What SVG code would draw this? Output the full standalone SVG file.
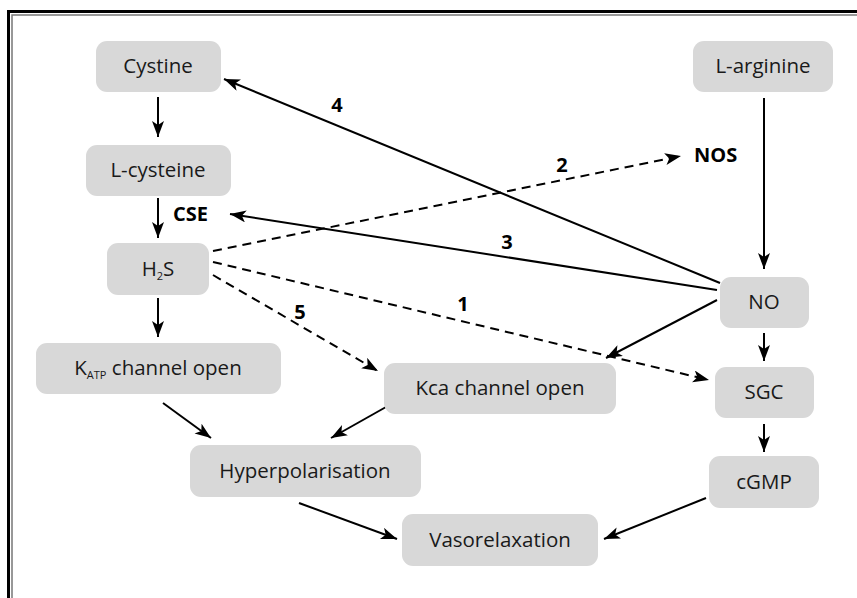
<svg xmlns="http://www.w3.org/2000/svg" width="857" height="598" viewBox="0 0 857 598">
<style>
.node rect{fill:#d8d8d8;}
.node text{font-family:"Open Sans","Noto Sans",sans-serif;font-size:20.5px;fill:#1a1a1a;text-anchor:middle;}
.lbl{font-family:"Open Sans","Noto Sans",sans-serif;font-size:20px;font-weight:bold;fill:#000;}
.sub{font-size:11px;}
.c{stroke:#000;stroke-width:2;fill:none;}
.d{stroke-dasharray:9,6;}
</style>
<defs>
<marker id="ah" markerUnits="userSpaceOnUse" markerWidth="18" markerHeight="14" refX="16" refY="6" orient="auto">
<path d="M0,0 L16,6 L0,12 L4,6 z" fill="#000"/>
</marker>
</defs>
<rect width="857" height="598" fill="#fff"/>
<path d="M8.5,598 V11.5 H857" fill="none" stroke="#000" stroke-width="3"/>
<path d="M12,598 V15 H857" fill="none" stroke="#777" stroke-width="1.5"/>

<g id="connectors">
<line class="c" x1="158" y1="97" x2="158" y2="137" marker-end="url(#ah)"/>
<line class="c" x1="158" y1="198" x2="158" y2="238" marker-end="url(#ah)"/>
<line class="c" x1="158" y1="298" x2="158" y2="337" marker-end="url(#ah)"/>
<line class="c" x1="764" y1="98" x2="764" y2="269" marker-end="url(#ah)"/>
<line class="c" x1="764" y1="333" x2="764" y2="361" marker-end="url(#ah)"/>
<line class="c" x1="764" y1="424" x2="764" y2="452" marker-end="url(#ah)"/>
<line class="c" x1="720" y1="283" x2="224" y2="79" marker-end="url(#ah)"/>
<line class="c" x1="717" y1="290" x2="230" y2="214" marker-end="url(#ah)"/>
<line class="c" x1="717" y1="300" x2="606" y2="358" marker-end="url(#ah)"/>
<line class="c" x1="163" y1="403" x2="211" y2="438" marker-end="url(#ah)"/>
<line class="c" x1="386" y1="407" x2="331" y2="438" marker-end="url(#ah)"/>
<line class="c" x1="299" y1="503" x2="397" y2="539" marker-end="url(#ah)"/>
<line class="c" x1="706" y1="498" x2="604" y2="539" marker-end="url(#ah)"/>
<line class="c d" x1="213" y1="251" x2="681" y2="156" marker-end="url(#ah)"/>
<line class="c d" x1="213" y1="262" x2="709" y2="380" marker-end="url(#ah)"/>
<line class="c d" x1="213" y1="275" x2="378" y2="371" marker-end="url(#ah)"/>
</g>

<g id="labels">
<text class="lbl" x="173" y="221">CSE</text>
<text class="lbl" x="694" y="162">NOS</text>
<text class="lbl" x="337" y="112" text-anchor="middle">4</text>
<text class="lbl" x="562" y="172" text-anchor="middle">2</text>
<text class="lbl" x="507" y="249" text-anchor="middle">3</text>
<text class="lbl" x="463" y="311" text-anchor="middle">1</text>
<text class="lbl" x="300" y="319" text-anchor="middle">5</text>
</g>

<g id="cystine" class="node"><rect x="96" y="41" width="125" height="51" rx="11"/><text x="158" y="73">Cystine</text></g>
<g id="l-cysteine" class="node"><rect x="86" y="145" width="145" height="51" rx="11"/><text x="158" y="177">L-cysteine</text></g>
<g id="h2s" class="node"><rect x="107" y="243" width="102" height="52" rx="11"/><text x="158" y="276">H<tspan class="sub" dy="4">2</tspan><tspan dy="-4">S</tspan></text></g>
<g id="katp" class="node"><rect x="36" y="343" width="245" height="51" rx="11"/><text x="158" y="375">K<tspan class="sub" dy="4">ATP</tspan><tspan dy="-4"> channel open</tspan></text></g>
<g id="l-arginine" class="node"><rect x="693" y="41" width="140" height="51" rx="11"/><text x="763" y="73">L-arginine</text></g>
<g id="no" class="node"><rect x="720" y="277" width="89" height="51" rx="11"/><text x="764" y="309">NO</text></g>
<g id="sgc" class="node"><rect x="715" y="367" width="99" height="51" rx="11"/><text x="764" y="399">SGC</text></g>
<g id="kca" class="node"><rect x="384" y="363" width="232" height="51" rx="11"/><text x="500" y="395">Kca channel open</text></g>
<g id="hyperpolarisation" class="node"><rect x="190" y="445" width="231" height="52" rx="11"/><text x="305" y="478">Hyperpolarisation</text></g>
<g id="cgmp" class="node"><rect x="709" y="456" width="110" height="52" rx="11"/><text x="764" y="489">cGMP</text></g>
<g id="vasorelaxation" class="node"><rect x="402" y="514" width="196" height="52" rx="11"/><text x="500" y="547">Vasorelaxation</text></g>
</svg>
